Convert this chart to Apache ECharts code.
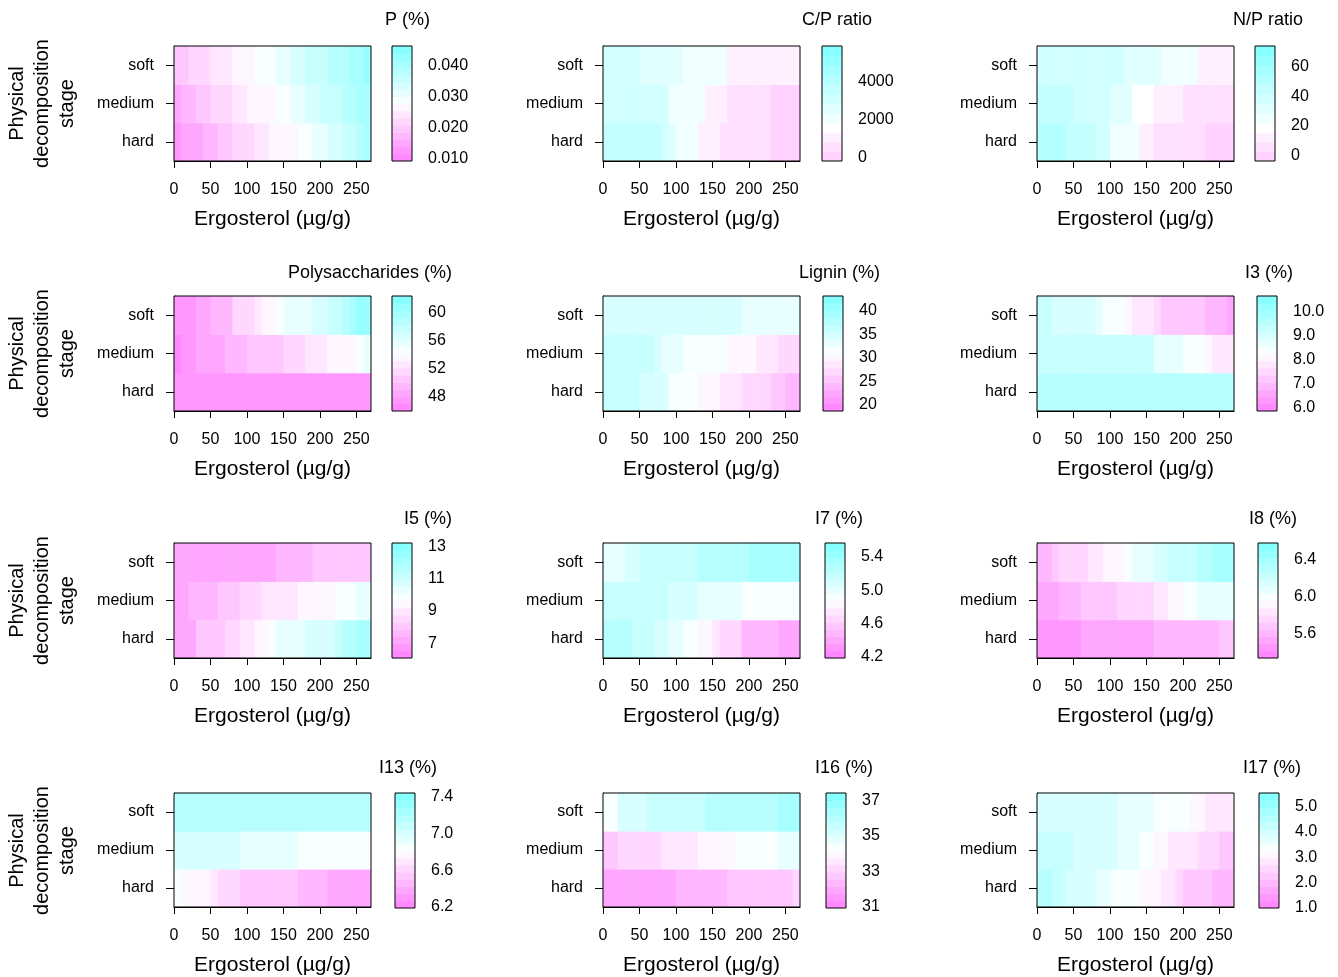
<!DOCTYPE html>
<html><head><meta charset="utf-8">
<script src="https://cdn.jsdelivr.net/npm/echarts@6/dist/echarts.min.js"></script>
<style>html,body{margin:0;padding:0;background:#fff}#chart{width:1338px;height:977px}</style>
</head><body><div id="chart"></div>
<script>
// ---------- data ----------
const ergosterol = [5,15,25,35,45,55,65,75,85,95,105,115,125,135,145,155,165,175,185,195,205,215,225,235,245,255,265];
const stages = ['hard','medium','soft'];
const ergoTicks = [0,50,100,150,200,250];

const pSoft   = [0.019,0.020,0.021,0.022,0.023,0.024,0.025,0.025,0.026,0.027,0.027,0.029,0.029,0.030,0.031,0.032,0.033,0.034,0.035,0.036,0.037,0.038,0.038,0.039,0.040,0.041,0.042];
const pMedium = [0.016,0.017,0.018,0.019,0.020,0.021,0.022,0.023,0.024,0.025,0.026,0.026,0.027,0.027,0.029,0.030,0.031,0.032,0.033,0.034,0.035,0.036,0.037,0.038,0.039,0.040,0.041];
const pHard   = [0.013,0.014,0.015,0.016,0.017,0.018,0.019,0.020,0.021,0.022,0.023,0.024,0.025,0.026,0.026,0.027,0.027,0.029,0.030,0.031,0.032,0.033,0.034,0.035,0.037,0.039,0.040];
const pKeyRange = [0.0091, 0.0464];
const pKeyTicks = [0.010, 0.020, 0.030, 0.040];

const cpSoft   = [2950,2950,2900,2900,2900,2600,2600,2600,2550,2550,2500,2000,2000,1950,1950,1950,1900,1150,1100,1100,1100,1050,1050,1000,1000,1000,1050];
const cpMedium = [3300,3300,3250,3250,3200,3200,3150,3100,3050,2100,2050,2050,2000,2000,1100,1100,1050,650,600,600,550,550,500,300,250,250,200];
const cpHard   = [3800,3750,3700,3650,3600,3550,3500,3400,3000,2400,2200,2100,2050,1200,1100,1050,800,750,700,650,600,550,500,300,200,100,50];
const cpKeyRange = [-173, 5870];
const cpKeyTicks = [0, 2000, 4000];

const npSoft   = [38,38,37,37,37,36,36,36,36,36,36,36,31,31,31,31,31,25,25,25,25,25,12,12,12,12,12];
const npMedium = [45,45,44,44,43,40,39,38,38,38,30,29,29,19,19,18,12,12,11,10,7,7,5,5,4,4,3];
const npHard   = [51,51,50,50,45,45,44,44,38,38,27,26,26,25,13,13,8,8,7,6,6,5,3,1,0,0,0];
const npKeyRange = [-4, 74];
const npKeyTicks = [0, 20, 40, 60];

const polySoft   = [47.5,47.8,48,48.3,49,49.3,49.7,50,51.5,52,52,52.5,53.5,53.8,55,55.3,55.5,55.8,56,56.2,56.5,57.5,58,58.5,60,60.5,61];
const polyMedium = [47,47.5,48,48.2,48.5,48.8,49,49.5,50,50,50.2,50.5,50.5,50.8,51,51.5,52,52,52.3,52.5,52.8,53.5,53.6,53.8,54,55,55.2];
const polyHard   = [47.2,47.3,47.4,47.4,47.5,47.5,47.5,47.6,47.6,47.6,47.7,47.7,47.7,47.7,47.8,47.8,47.8,47.8,47.8,47.9,47.9,47.9,48,48,48,48,48];
const polyKeyRange = [46, 62.3];
const polyKeyTicks = [48, 52, 56, 60];

const ligSoft   = [34.8,34.8,34.8,35,35,35,35,35,35,35,35,34.8,34.8,34.7,34.6,34.5,34.5,34.3,34,33.5,33.4,33.3,33.2,33.2,33.1,33.1,33];
const ligMedium = [36,36,36,35.8,35.7,35.5,35.5,35.3,33.5,33.4,33.3,32,32,32,31.3,31.2,31.2,30.2,30.1,30,29.9,28.5,28.4,28.3,27.5,27,27];
const ligHard   = [36.5,36.5,36.5,36.3,35.5,35.3,35.2,35.1,35,32.2,32.1,32,32,30,30,29.8,28.6,28.5,28.4,26.8,26.7,26.6,26.5,25.2,24.8,24.5,24.2];
const ligKeyRange = [18.7, 43.1];
const ligKeyTicks = [20, 25, 30, 35, 40];

const i3Soft   = [9.2,9.2,9.1,9.1,9.0,9.0,9.0,9.0,8.6,8.5,8.5,8.5,8.0,7.9,7.9,7.8,7.4,7.3,7.3,7.2,7.2,7.1,7.1,7.0,6.9,6.8,6.7];
const i3Medium = [9.4,9.4,9.4,9.4,9.4,9.4,9.3,9.3,9.3,9.3,9.3,9.3,9.2,9.2,9.2,9.2,8.8,8.8,8.7,8.7,8.5,8.5,8.4,8.0,7.9,7.9,7.9];
const i3Hard   = [9.7,9.7,9.7,9.7,9.7,9.7,9.7,9.7,9.7,9.6,9.6,9.6,9.6,9.6,9.6,9.6,9.6,9.6,9.6,9.5,9.5,9.5,9.5,9.5,9.5,9.5,9.5];
const i3KeyRange = [5.85, 10.65];
const i3KeyTicks = [6, 7, 8, 9, 10];

const i5Soft   = [7.4,7.4,7.3,7.3,7.3,7.3,7.3,7.3,7.3,7.3,7.3,7.4,7.4,7.4,7.5,7.5,7.5,7.8,7.8,7.9,7.9,7.9,8,8,8,8,8];
const i5Medium = [7.2,7.2,7.7,7.7,7.7,7.7,7.9,8.0,8.0,8.4,8.4,8.4,8.8,8.8,8.8,9.2,9.2,9.3,9.3,9.4,9.4,9.4,9.9,9.9,9.9,10.3,10.4];
const i5Hard   = [7.2,7.2,7.3,8.2,8.3,8.3,8.3,8.4,8.5,9.0,9.0,9.4,9.4,10.0,10.1,10.1,10.2,10.3,10.7,10.7,10.8,10.9,11.2,11.5,11.8,12.0,12.2];
const i5KeyRange = [6.1, 13.2];
const i5KeyTicks = [7, 9, 11, 13];

const i7Soft   = [4.98,4.98,5.0,5.12,5.13,5.14,5.18,5.2,5.2,5.2,5.21,5.22,5.22,5.23,5.25,5.28,5.28,5.3,5.3,5.3,5.32,5.32,5.33,5.33,5.34,5.35,5.35];
const i7Medium = [5.15,5.15,5.16,5.16,5.16,5.16,5.15,5.15,5.14,5.13,5.05,5.05,5.05,5.04,5.04,5.04,5.04,5.03,5.03,4.95,4.95,4.94,4.94,4.94,4.93,4.93,4.93];
const i7Hard   = [5.3,5.3,5.29,5.28,5.15,5.15,5.14,5.06,5.05,5.04,5.03,4.95,4.94,4.8,4.79,4.78,4.66,4.65,4.63,4.52,4.5,4.49,4.48,4.45,4.42,4.4,4.38];
const i7KeyRange = [4.18, 5.57];
const i7KeyTicks = [4.2, 4.6, 5.0, 5.4];

const i8Soft   = [5.62,5.63,5.66,5.74,5.75,5.76,5.77,5.83,5.84,5.9,5.91,5.92,6.02,6.04,6.06,6.08,6.15,6.18,6.2,6.22,6.24,6.25,6.3,6.33,6.36,6.38,6.4];
const i8Medium = [5.53,5.55,5.56,5.6,5.63,5.64,5.65,5.66,5.67,5.68,5.7,5.73,5.74,5.76,5.77,5.78,5.86,5.87,5.88,5.9,6.02,6.03,6.04,6.05,6.08,6.1,6.1];
const i8Hard   = [5.48,5.47,5.47,5.47,5.48,5.48,5.49,5.5,5.5,5.5,5.51,5.52,5.53,5.54,5.55,5.56,5.57,5.58,5.59,5.6,5.6,5.61,5.62,5.63,5.64,5.66,5.72];
const i8KeyRange = [5.33, 6.58];
const i8KeyTicks = [5.6, 6.0, 6.4];

const i13Soft   = [7.15,7.16,7.16,7.17,7.17,7.17,7.18,7.18,7.18,7.18,7.18,7.18,7.18,7.18,7.18,7.18,7.18,7.18,7.18,7.18,7.18,7.18,7.18,7.18,7.2,7.2,7.2];
const i13Medium = [7.02,7.02,7.02,7.02,7.01,7.01,7.0,7.0,7.0,6.96,6.95,6.95,6.95,6.95,6.95,6.94,6.94,6.88,6.88,6.88,6.88,6.88,6.87,6.87,6.87,6.87,6.87];
const i13Hard   = [6.88,6.78,6.76,6.75,6.74,6.66,6.65,6.64,6.63,6.56,6.55,6.55,6.54,6.54,6.53,6.52,6.51,6.48,6.48,6.46,6.43,6.42,6.42,6.41,6.4,6.4,6.4];
const i13KeyRange = [6.19, 7.44];
const i13KeyTicks = [6.2, 6.6, 7.0, 7.4];

const i16Soft   = [34.5,34.5,35.0,35.0,35.0,35.1,35.4,35.5,35.5,35.5,35.5,35.6,35.6,35.6,35.8,35.9,35.9,36.0,36.0,36.0,36.0,36.0,36.1,36.1,36.2,36.3,36.3];
const i16Medium = [32.9,32.9,33.0,33.0,33.0,33.1,33.1,33.3,33.4,33.4,33.4,33.5,33.5,33.9,33.9,33.9,33.9,34.0,34.4,34.4,34.4,34.4,34.5,34.5,34.8,34.8,34.9];
const i16Hard   = [32.0,31.9,31.9,32.0,32.0,32.0,32.1,32.1,32.1,32.1,32.2,32.2,32.2,32.2,32.2,32.2,32.5,32.6,32.6,32.6,32.6,32.7,32.7,32.8,32.8,32.9,33.0];
const i16KeyRange = [30.93, 37.4];
const i16KeyTicks = [31, 33, 35, 37];

const i17Soft   = [4.1,4.1,4.1,4.05,4.0,3.95,3.9,3.9,3.9,3.85,3.85,3.8,3.8,3.6,3.6,3.55,3.5,3.45,3.4,3.4,3.4,3.0,3.0,2.95,2.95,2.8,2.8];
const i17Medium = [4.2,4.2,4.2,4.2,4.2,3.95,3.95,3.9,3.9,3.9,3.85,3.7,3.65,3.6,3.35,3.3,3.05,3.0,2.95,2.75,2.7,2.7,2.65,2.6,2.45,2.4,2.35];
const i17Hard   = [4.45,4.45,4.4,4.4,4.1,4.1,4.05,4.0,3.75,3.7,3.45,3.45,3.4,3.4,3.05,3.0,3.0,2.8,2.75,2.45,2.4,2.4,2.35,2.3,2.1,2.0,1.95];
const i17KeyRange = [0.99, 5.54];
const i17KeyTicks = [1, 2, 3, 4, 5];

// ---------- panel specs ----------
const panels = [
  {title:'P (%)', soft:pSoft, medium:pMedium, hard:pHard, range:pKeyRange, ticks:pKeyTicks, dec:3, steps:16},
  {title:'C/P ratio', soft:cpSoft, medium:cpMedium, hard:cpHard, range:cpKeyRange, ticks:cpKeyTicks, dec:0, steps:12, mid:1590},
  {title:'N/P ratio', soft:npSoft, medium:npMedium, hard:npHard, range:npKeyRange, ticks:npKeyTicks, dec:0, steps:12, mid:18.75},
  {title:'Polysaccharides (%)', soft:polySoft, medium:polyMedium, hard:polyHard, range:polyKeyRange, ticks:polyKeyTicks, dec:0, steps:16},
  {title:'Lignin (%)', soft:ligSoft, medium:ligMedium, hard:ligHard, range:ligKeyRange, ticks:ligKeyTicks, dec:0, steps:16},
  {title:'I3 (%)', soft:i3Soft, medium:i3Medium, hard:i3Hard, range:i3KeyRange, ticks:i3KeyTicks, dec:1, steps:16},
  {title:'I5 (%)', soft:i5Soft, medium:i5Medium, hard:i5Hard, range:i5KeyRange, ticks:i5KeyTicks, dec:0, steps:16},
  {title:'I7 (%)', soft:i7Soft, medium:i7Medium, hard:i7Hard, range:i7KeyRange, ticks:i7KeyTicks, dec:1, steps:16},
  {title:'I8 (%)', soft:i8Soft, medium:i8Medium, hard:i8Hard, range:i8KeyRange, ticks:i8KeyTicks, dec:1, steps:16},
  {title:'I13 (%)', soft:i13Soft, medium:i13Medium, hard:i13Hard, range:i13KeyRange, ticks:i13KeyTicks, dec:1, steps:16},
  {title:'I16 (%)', soft:i16Soft, medium:i16Medium, hard:i16Hard, range:i16KeyRange, ticks:i16KeyTicks, dec:0, steps:16},
  {title:'I17 (%)', soft:i17Soft, medium:i17Medium, hard:i17Hard, range:i17KeyRange, ticks:i17KeyTicks, dec:1, steps:16}
];

// ---------- layout ----------
const FONT = "'Liberation Sans', Arial, Helvetica, sans-serif";
const plotLeft = [174, 603, 1037];
const plotW = 197;
const rowTop = [46, 296, 543, 793];
const plotH = 115;
const keyLeft = [392, 822, 1255, 392, 823, 1257, 392, 825, 1258, 395, 826, 1259];
const keyW = 20;
const titleRight = [430, 872, 1303, 452, 880, 1293, 452, 863, 1297, 437, 873, 1301];
const titleY = [20, 273, 519, 768];
const BIN = 10;

function keyColor(p, v) {
  const lo = p.range[0], hi = p.range[1], n = p.steps;
  const w = (hi - lo) / n;
  let k = Math.floor((v - lo) / w);
  k = Math.max(0, Math.min(n - 1, k));
  const c = lo + (k + 0.5) * w;
  const mid = p.mid !== undefined ? p.mid : (lo + hi) / 2;
  const half = Math.max(hi - mid, mid - lo);
  let f = (c - mid) / half;
  f = Math.max(-1, Math.min(1, f));
  const s = 0.5 * Math.abs(f);
  const d = Math.round(255 * (1 - s));
  return f >= 0 ? `rgb(${d},255,255)` : `rgb(255,${d},255)`;
}

const option = {
  animation: false,
  backgroundColor: '#fff',
  textStyle: {fontFamily: FONT, color: '#000'},
  grid: [], xAxis: [], yAxis: [], series: [], graphic: []
};

panels.forEach((p, i) => {
  const r = Math.floor(i / 3), c = i % 3;
  // main plot
  const gi = option.grid.length;
  option.grid.push({left: plotLeft[c], top: rowTop[r], width: plotW, height: plotH,
    show: true, borderColor: '#000', borderWidth: 1, backgroundColor: 'transparent', z: 5});
  option.xAxis.push({gridIndex: gi, type: 'value', min: 0, max: 270,
    axisLine: {show: true, lineStyle: {color: '#000', width: 1}},
    axisTick: {show: true, length: 7, customValues: ergoTicks, lineStyle: {color: '#000'}},
    axisLabel: {fontSize: 16, color: '#000', margin: 21, fontFamily: FONT, customValues: ergoTicks},
    splitLine: {show: false},
    name: 'Ergosterol (µg/g)', nameLocation: 'middle', nameGap: 48,
    nameTextStyle: {fontSize: 21, color: '#000', fontFamily: FONT}});
  option.yAxis.push({gridIndex: gi, type: 'category', data: stages,
    axisLine: {show: true, lineStyle: {color: '#000', width: 1}},
    axisTick: {show: true, alignWithLabel: true, length: 8, lineStyle: {color: '#000'}},
    axisLabel: {fontSize: 16, color: '#000', margin: 20, fontFamily: FONT},
    splitLine: {show: false}});
  const cells = [];
  stages.forEach(st => {
    p[st].forEach((v, j) => cells.push([ergosterol[j], st, v]));
  });
  option.series.push({type: 'custom', xAxisIndex: gi, yAxisIndex: gi, clip: true,
    encode: {x: 0, y: 1}, data: cells,
    renderItem: (params, api) => {
      const x = api.value(0), yi = api.value(1), v = api.value(2);
      const a = api.coord([x - BIN / 2, yi]);
      const b = api.coord([x + BIN / 2, yi]);
      const h = api.size([0, 1])[1];
      return {type: 'rect', shape: {x: a[0], y: a[1] - h / 2, width: b[0] - a[0] + 0.6, height: h + 0.6},
        style: {fill: keyColor(p, v)}};
    }});

  // colour key
  const ki = option.grid.length;
  option.grid.push({left: keyLeft[i], top: rowTop[r], width: keyW, height: plotH,
    show: true, borderColor: '#000', borderWidth: 1, backgroundColor: 'transparent', z: 5});
  option.xAxis.push({gridIndex: ki, type: 'value', min: 0, max: 1, show: false});
  option.yAxis.push({gridIndex: ki, type: 'value', position: 'right', min: p.range[0], max: p.range[1],
    axisLine: {show: false},
    axisTick: {show: true, length: 6, customValues: p.ticks, lineStyle: {color: '#000'}},
    axisLabel: {fontSize: 16, color: '#000', margin: 16, fontFamily: FONT, customValues: p.ticks,
      formatter: v => Number(v).toFixed(p.dec)},
    splitLine: {show: false}});
  const kw = (p.range[1] - p.range[0]) / p.steps;
  const keyData = [];
  for (let k = 0; k < p.steps; k++) keyData.push([0.5, p.range[0] + (k + 0.5) * kw]);
  option.series.push({type: 'custom', xAxisIndex: ki, yAxisIndex: ki, clip: true,
    encode: {x: 0, y: 1}, data: keyData,
    renderItem: (params, api) => {
      const vc = api.value(1);
      const a = api.coord([0, vc - kw / 2]);
      const b = api.coord([1, vc + kw / 2]);
      return {type: 'rect', shape: {x: a[0], y: b[1], width: b[0] - a[0], height: a[1] - b[1] + 0.6},
        style: {fill: keyColor(p, vc)}};
    }});

  // title
  option.graphic.push({type: 'text', x: titleRight[i], y: titleY[r],
    style: {text: p.title, align: 'right', verticalAlign: 'middle', font: `18px ${FONT}`, fill: '#000'}});
  // row label
  if (c === 0) {
    option.graphic.push({type: 'text', x: 42, y: rowTop[r] + plotH / 2, rotation: Math.PI / 2,
      style: {text: 'Physical\ndecomposition\nstage', align: 'center', verticalAlign: 'middle',
        font: `20px ${FONT}`, lineHeight: 25, fill: '#000'}});
  }
});

const chart = echarts.init(document.getElementById('chart'), null, {renderer: 'canvas'});
chart.setOption(option);
</script>
</body></html>
